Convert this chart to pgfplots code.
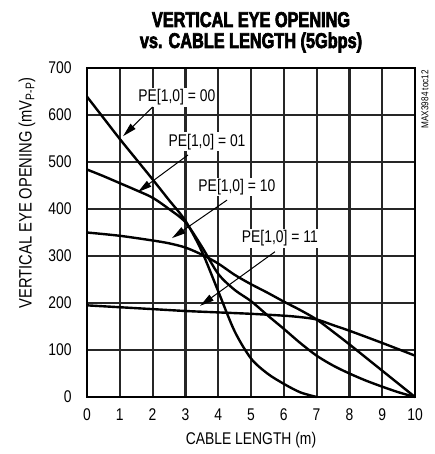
\documentclass[border=0pt]{standalone}
\usepackage{pgfplots}
\pgfplotsset{compat=1.18}
\usepackage{fontspec}
\setmainfont{Liberation Sans}[FakeStretch=0.82]
\newfontfamily\titlefont{Liberation Sans}[FakeStretch=0.76,BoldFeatures={FakeBold=3}]
\usetikzlibrary{arrows.meta}

\newcommand{\lblfont}{\fontsize{17}{17}\selectfont}

\begin{document}
\begin{tikzpicture}
\useasboundingbox (-87bp,-57bp) rectangle (348bp,397bp);
\begin{axis}[
    at={(0,0)}, anchor=south west,
    scale only axis, width=328bp, height=329bp,
    xmin=0, xmax=10, ymin=0, ymax=700,
    xtick={0,1,...,10}, ytick={0,100,...,700},
    xmajorgrids=true, ymajorgrids=true,
    grid style={black!85, line width=2.2bp},
    axis line style={line width=2.6bp},
    tick style={draw=none},
    tick label style={font=\lblfont},
    /pgf/number format/assume math mode=true,
    xticklabel style={yshift=-8bp},
    yticklabel style={xshift=-12bp},
    clip=false,
]

% PE[1,0] = 00
\addplot[black, line width=2.4bp, smooth] coordinates {
    (0,639)(0.5,594)(1,549)(1.5,506)(2,463)(2.5,419)(3,375)(3.5,310)
    (4,225)(4.5,140)(5,82)(5.5,50)(6,28)(6.5,10)(7,0)
};
% PE[1,0] = 01
\addplot[black, line width=2.4bp, smooth] coordinates {
    (0,484)(0.5,470)(1,455)(1.5,440)(2,424)(2.5,400)(3,372)(3.5,320)
    (4,262)(4.5,228)(5,204)(5.5,174)(6,145)(6.5,115)(7,88)(7.5,67)
    (8,50)(8.5,35)(9,22)(9.5,10)(10,0)
};
% PE[1,0] = 10
\addplot[black, line width=2.4bp, smooth] coordinates {
    (0,350)(1,343)(2,333)(2.5,327)(3,318)(3.5,303)(4,284)(4.5,260)
    (5,240)(5.5,222)(6,203)(6.5,185)(7,165)(7.5,139)(8,112)(8.5,84)
    (9,56)(9.5,28)(10,0)
};
% PE[1,0] = 11
\addplot[black, line width=2.4bp, smooth] coordinates {
    (0,195)(1,191)(2,187)(3,183)(4,180)(5,177)(6,173)(6.5,170)
    (7,165)(7.5,153)(8,141)(9,115)(10,88)
};

\node[fill=white, inner sep=1.5bp, font=\lblfont] at (axis cs:2.74,638) {PE[1,0] = 00};
\draw[line width=1bp, -{Triangle[length=14bp,width=7bp]}] (axis cs:2.0,617) -- (axis cs:1.10,555);
\node[fill=white, inner sep=1.5bp, font=\lblfont] at (axis cs:3.66,543) {PE[1,0] = 01};
\draw[line width=1bp, -{Triangle[length=14bp,width=7bp]}] (axis cs:3.08,515) -- (axis cs:1.55,436);
\node[fill=white, inner sep=1.5bp, font=\lblfont] at (axis cs:4.57,447) {PE[1,0] = 10};
\draw[line width=1bp, -{Triangle[length=14bp,width=7bp]}] (axis cs:4.27,419) -- (axis cs:2.59,338);
\node[fill=white, inner sep=1.5bp, font=\lblfont] at (axis cs:5.88,338) {PE[1,0] = 11};
\draw[line width=1bp, -{Triangle[length=14bp,width=7bp]}] (axis cs:5.73,309) -- (axis cs:3.45,194);
\end{axis}

\node[anchor=base, font=\titlefont\bfseries\fontsize{21.5}{21.5}\selectfont] at (164bp,370bp) {VERTICAL EYE OPENING};
\node[anchor=base, font=\titlefont\bfseries\fontsize{21.5}{21.5}\selectfont] at (164bp,349bp) {vs. CABLE LENGTH (5Gbps)};
\node[anchor=base, font=\lblfont] at (164bp,-47bp) {CABLE LENGTH (m)};
\node[rotate=90, font=\fontsize{18}{18}\selectfont] at (-60bp,204bp) {VERTICAL EYE OPENING (mV\textsubscript{P-P})};
\node[rotate=90, anchor=east, inner sep=0pt, font=\fontsize{10}{10}\selectfont] at (338bp,327bp) {MAX3984 toc12};
\end{tikzpicture}
\end{document}
